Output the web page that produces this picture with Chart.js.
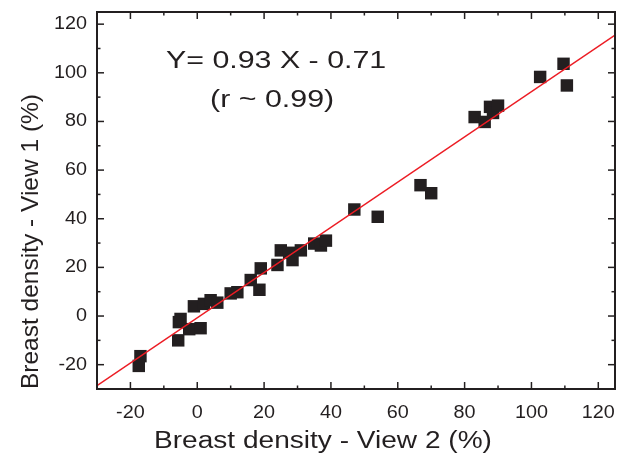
<!DOCTYPE html>
<html>
<head>
<meta charset="utf-8">
<script src="https://cdn.jsdelivr.net/npm/chart.js@4/dist/chart.umd.min.js"></script>
<style>
  html, body { margin: 0; padding: 0; background: #fff; }
  #wrap { width: 625px; height: 464px; position: relative; }
</style>
</head>
<body>
<div id="wrap"><canvas id="density-chart"></canvas></div>
<script>
// valores (View 2 no eixo x, View 1 no eixo y)
const view2 = [-17, -17.5, -5.5, -5, -5.7, -2.4, -1, 1, 2, 4, 6, 10, 12, 16, 18.6, 19, 24, 25, 27.5, 28.5, 31, 35, 37, 38.5, 47, 54, 66.8, 70, 83, 86, 87.6, 88.5, 90, 102.6, 109.6, 110.6];
const view1 = [-16.5, -20.5, -2.5, -1.2, -10, -5.4, 4, -5, 5, 6.5, 5.5, 9.3, 9.8, 14.8, 10.8, 19.6, 21, 27, 26, 23, 27, 29.8, 29, 31, 43.8, 40.8, 53.8, 50.5, 81.8, 79.8, 86, 83.5, 86.5, 98.3, 103.7, 94.8];

const fitX = [-30, 125];
const fitY = [-28.6, 115.5];

// ticks dos eixos
const majorTicks = [-20, 0, 20, 40, 60, 80, 100, 120];
const minorTicks = [-10, 10, 30, 50, 70, 90, 110];

const equationText = ['Y= 0.93 X - 0.71', '(r ~ 0.99)'];
const xTitle = 'Breast density - View 2 (%)';
const yTitle = 'Breast density - View 1 (%)';

const ink = '#231f20';

// desenha moldura, ticks para dentro, rótulos e textos
const framePlugin = {
    id: 'frame',
    afterDraw(chart) {
        const ctx = chart.ctx;
        const a = chart.chartArea;
        const x = chart.scales.x;
        const y = chart.scales.y;

        ctx.save();
        ctx.strokeStyle = ink;
        ctx.fillStyle = ink;

        function line(x1, y1, x2, y2) {
            ctx.beginPath();
            ctx.moveTo(x1, y1);
            ctx.lineTo(x2, y2);
            ctx.stroke();
        }

        ctx.lineWidth = 1.5;
        majorTicks.forEach(v => {
            const px = x.getPixelForValue(v);
            const py = y.getPixelForValue(v);
            line(px, a.bottom, px, a.bottom - 7);
            line(px, a.top, px, a.top + 7);
            line(a.left, py, a.left + 7, py);
            line(a.right, py, a.right - 7, py);
        });
        minorTicks.forEach(v => {
            const px = x.getPixelForValue(v);
            const py = y.getPixelForValue(v);
            line(px, a.bottom, px, a.bottom - 3.5);
            line(px, a.top, px, a.top + 3.5);
            line(a.left, py, a.left + 3.5, py);
            line(a.right, py, a.right - 3.5, py);
        });

        ctx.lineWidth = 2;
        ctx.strokeRect(a.left, a.top, a.width, a.height);

        function text(str, px, py, size, sx, align) {
            ctx.save();
            ctx.font = size + 'px "Liberation Sans", Arial, sans-serif';
            ctx.textAlign = align;
            ctx.textBaseline = 'middle';
            ctx.translate(px, py);
            ctx.scale(sx, 1);
            ctx.fillText(str, 0, 0);
            ctx.restore();
        }

        // rótulos dos ticks
        majorTicks.forEach(v => {
            text(String(v), x.getPixelForValue(v), a.bottom + 24, 18, 1.1, 'center');
            text(String(v), a.left - 10, y.getPixelForValue(v), 18, 1.1, 'right');
        });

        // títulos dos eixos
        text(xTitle, (a.left + a.right) / 2 - 33, a.bottom + 53, 23, 1.22, 'center');
        ctx.save();
        ctx.translate(31, (a.top + a.bottom) / 2 + 41);
        ctx.rotate(-Math.PI / 2);
        ctx.font = '24.5px "Liberation Sans", Arial, sans-serif';
        ctx.textAlign = 'center';
        ctx.textBaseline = 'middle';
        ctx.fillText(yTitle, 0, 0);
        ctx.restore();

        // equação
        text(equationText[0], x.getPixelForValue(23.6), y.getPixelForValue(104.5), 23, 1.32, 'center');
        text(equationText[1], x.getPixelForValue(22.4), y.getPixelForValue(88.5), 23, 1.32, 'center');

        ctx.restore();
    }
};

const ctxDensity = document.getElementById('density-chart');
const densityChart = new Chart(ctxDensity, {
    type: 'scatter',
    data: {
        datasets: [
            {
                label: 'Ajuste',
                data: fitX.map((v, i) => ({ x: v, y: fitY[i] })),
                showLine: true,
                borderColor: '#ec1c24',
                borderWidth: 1.4,
                pointRadius: 0,
                fill: false
            },
            {
                label: 'Pontos',
                data: view2.map((v, i) => ({ x: v, y: view1[i] })),
                pointStyle: 'rect',
                pointRadius: 8.8,
                pointHoverRadius: 8.8,
                backgroundColor: ink,
                borderColor: ink,
                borderWidth: 0
            }
        ]
    },
    options: {
        responsive: true,
        maintainAspectRatio: false,
        animation: false,
        layout: {
            autoPadding: false,
            padding: { left: 97, right: 10, top: 12, bottom: 75 }
        },
        plugins: {
            legend: { display: false },
            tooltip: { enabled: false }
        },
        scales: {
            x: {
                type: 'linear',
                min: -30,
                max: 125,
                display: false
            },
            y: {
                type: 'linear',
                min: -30,
                max: 125,
                display: false
            }
        }
    },
    plugins: [framePlugin]
});
</script>
</body>
</html>
